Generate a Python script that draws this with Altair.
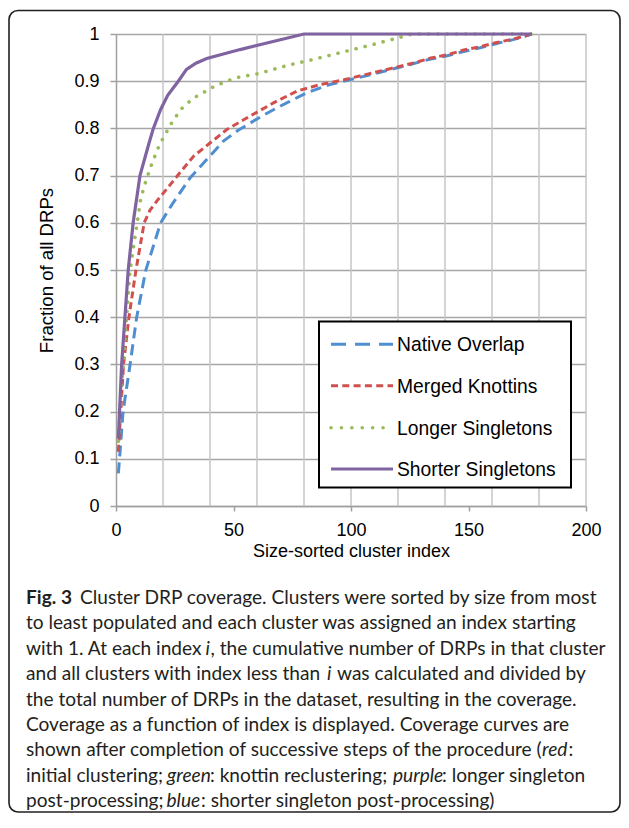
import altair as alt
import pandas as pd

# ---------------- data ----------------
series_names = ["Native Overlap", "Merged Knottins", "Longer Singletons", "Shorter Singletons"]
series_colors = ["#4F8ED0", "#D0504D", "#9BBB59", "#8064A2"]

native_x = [1, 1.5, 3, 6, 8.8, 12.7, 19, 24, 31.5, 38.6, 45.7, 52, 62.7, 71, 81, 91, 102, 114, 125,
            133, 141, 148, 155, 162, 169, 177]
native_y = [0.069, 0.1, 0.2, 0.3, 0.4, 0.5, 0.6, 0.64, 0.695, 0.734, 0.773, 0.796, 0.828, 0.85, 0.875,
            0.893, 0.906, 0.921, 0.935, 0.946, 0.954, 0.963, 0.971, 0.98, 0.988, 1.0]

merged_x = [1, 2, 3.2, 5.5, 8.5, 12, 14.5, 18, 22, 27, 33, 40, 47, 57, 67, 77, 87, 97, 107, 117, 127,
            134, 141, 148, 155, 162, 169, 177]
merged_y = [0.115, 0.2, 0.3, 0.4, 0.5, 0.6, 0.627, 0.65, 0.674, 0.705, 0.741, 0.769, 0.797, 0.826,
            0.854, 0.879, 0.893, 0.903, 0.915, 0.927, 0.939, 0.949, 0.956, 0.966, 0.973, 0.982, 0.989,
            1.0]

longer_x = [1, 2.1, 3.2, 4.5, 6, 9, 10.5, 12.8, 15.6, 18.7, 20.8, 22.7, 25.1, 27.5, 30.3, 33.6, 37.2,
            40.7, 44.7, 48.2, 52, 60.6, 72.6, 84.7, 96.7, 108.8, 120.9, 126, 177]
longer_y = [0.137, 0.242, 0.3, 0.4, 0.5, 0.6, 0.651, 0.69, 0.73, 0.768, 0.785, 0.804, 0.822, 0.84,
            0.853, 0.866, 0.876, 0.886, 0.895, 0.902, 0.908, 0.916, 0.933, 0.947, 0.962, 0.977, 0.993,
            1.0, 1.0]

shorter_x = [1, 2.4, 3.8, 5.2, 7.3, 10.2, 14, 15.9, 19, 22, 26.5, 30, 34, 38.6, 52.8, 80, 177]
shorter_y = [0.143, 0.3, 0.4, 0.5, 0.6, 0.7, 0.768, 0.8, 0.84, 0.87, 0.9, 0.925, 0.938, 0.948, 0.967,
             1.0, 1.0]

x_ticks = [0, 50, 100, 150, 200]
x_grid = [20, 40, 60, 80, 100, 120, 140, 160, 180, 200]
y_ticks = [0, 0.1, 0.2, 0.3, 0.4, 0.5, 0.6, 0.7, 0.8, 0.9, 1.0]

x_title = "Size-sorted cluster index"
y_title = "Fraction of all DRPs"

# caption: (text, style, left x on page, line number)
caption = [
    ("Fig. 3", "bold", 26, 0),
    ("Cluster DRP coverage. Clusters were sorted by size from most", "normal", 80, 0),
    ("to least populated and each cluster was assigned an index starting", "normal", 26, 1),
    ("with 1. At each index", "normal", 26, 2),
    ("i", "italic", 205.5, 2),
    (", the cumulative number of DRPs in that cluster", "normal", 210.5, 2),
    ("and all clusters with index less than", "normal", 26, 3),
    ("i", "italic", 327, 3),
    ("was calculated and divided by", "normal", 337, 3),
    ("the total number of DRPs in the dataset, resulting in the coverage.", "normal", 26, 4),
    ("Coverage as a function of index is displayed. Coverage curves are", "normal", 26, 5),
    ("shown after completion of successive steps of the procedure (", "normal", 26, 6),
    ("red", "italic", 542, 6),
    (":", "normal", 568.5, 6),
    ("initial clustering;", "normal", 26, 7),
    ("green", "italic", 167, 7),
    (": knottin reclustering;", "normal", 210, 7),
    ("purple", "italic", 393, 7),
    (": longer singleton", "normal", 442, 7),
    ("post-processing;", "normal", 26, 8),
    ("blue", "italic", 166.5, 8),
    (": shorter singleton post-processing)", "normal", 201, 8),
]

# ---------------- layout ----------------
W, H = 470, 472
OX, OY = 116, 34          # page position of the plot's top-left corner
CANVAS_W, CANVAS_H = 613, 805
FONT = "Liberation Sans"
CAP_FONT = "Lato"
CAP_SIZE = 19.1
CAP_COLOR = "#231f20"
CAP_Y0, CAP_DY = 598, 25.4


def px(v):
    return v - OX


def py(v):
    return v - OY


frames = []
for name, xs, ys in zip(series_names,
                        [native_x, merged_x, longer_x, shorter_x],
                        [native_y, merged_y, longer_y, shorter_y]):
    frames.append(pd.DataFrame({"series": name, "index": xs, "frac": ys}))
df = pd.concat(frames, ignore_index=True)

xscale = alt.Scale(domain=[0, 200], nice=False, zero=True)
yscale = alt.Scale(domain=[0, 1], nice=False, zero=True)

xaxis = alt.Axis(values=x_ticks, grid=False, title=x_title, tickSize=5, tickColor="#a0a0a0",
                 tickWidth=1.5, domainColor="#a0a0a0", domainWidth=1.5, labelFont=FONT,
                 labelFontSize=18, labelColor="#000000", labelPadding=10, labelFlush=False,
                 labelOverlap=False, titleFont=FONT, titleFontSize=18, titleFontWeight="normal",
                 titleColor="#000000", titleX=W / 2, titleY=50, titleBaseline="alphabetic",
                 titleAlign="center")
yaxis = alt.Axis(values=y_ticks, format="~g", grid=True, gridColor="#a6a6a6", gridWidth=1.5,
                 title=y_title, tickSize=6, tickColor="#a0a0a0", tickWidth=1.5,
                 domainColor="#a0a0a0", domainWidth=1.5, labelFont=FONT, labelFontSize=18,
                 labelColor="#000000", labelPadding=11, labelFlush=False, labelOverlap=False,
                 titleFont=FONT, titleFontSize=18.6, titleFontWeight="normal", titleColor="#000000",
                 titleAngle=-90, titleX=-64, titleY=H / 2, titleBaseline="alphabetic",
                 titleAlign="center")

one = pd.DataFrame({"k": [0]})

# vertical grid lines every 20 units
grid = alt.Chart(pd.DataFrame({"g": x_grid})).mark_rule(color="#c6c6c6", strokeWidth=1.5).encode(
    x=alt.X("g:Q", scale=xscale, axis=xaxis)
)

styles = {
    "Native Overlap": dict(strokeDash=[11, 6], strokeCap="butt", strokeWidth=3),
    "Merged Knottins": dict(strokeDash=[7, 4], strokeCap="butt", strokeWidth=3),
    "Longer Singletons": dict(strokeDash=[0.1, 9.2], strokeCap="round", strokeWidth=3.6),
    "Shorter Singletons": dict(strokeWidth=3.2),
}
legend_dash = {
    "Native Overlap": [15, 9],
    "Merged Knottins": [7, 4.3],
    "Longer Singletons": [0.1, 10.3],
}

layers = [grid]
for name, color in zip(series_names, series_colors):
    layers.append(
        alt.Chart(df).transform_filter(alt.datum.series == name)
        .mark_line(color=color, **styles[name])
        .encode(x=alt.X("index:Q", scale=xscale, axis=xaxis),
                y=alt.Y("frac:Q", scale=yscale, axis=yaxis))
    )

# legend (drawn by hand, Excel style)
layers.append(
    alt.Chart(one).mark_rect(fill="white", stroke="black", strokeWidth=2).encode(
        x=alt.value(px(319)), x2=alt.value(px(571)), y=alt.value(py(321.5)), y2=alt.value(py(487.5))
    )
)
leg_rows = [344.3, 385.7, 427.7, 469]
for name, color, ry in zip(series_names, series_colors, leg_rows):
    kw = dict(color=color, strokeWidth=styles[name]["strokeWidth"])
    if name in legend_dash:
        kw["strokeDash"] = legend_dash[name]
        kw["strokeCap"] = styles[name]["strokeCap"]
    layers.append(
        alt.Chart(one).mark_rule(**kw).encode(
            x=alt.value(px(331)), x2=alt.value(px(393)), y=alt.value(py(ry))
        )
    )
    layers.append(
        alt.Chart(one).mark_text(align="left", baseline="middle", font=FONT, fontSize=19.3,
                                 color="#000000", text=name).encode(
            x=alt.value(px(397)), y=alt.value(py(ry + 1))
        )
    )

# figure caption
for text, style, xl, line in caption:
    kw = dict(align="left", baseline="middle", font=CAP_FONT, fontSize=CAP_SIZE, color=CAP_COLOR,
              text=text)
    if style == "bold":
        kw["fontWeight"] = "bold"
    elif style == "italic":
        kw["fontStyle"] = "italic"
    layers.append(
        alt.Chart(one).mark_text(**kw).encode(
            x=alt.value(px(xl)), y=alt.value(py(CAP_Y0 + CAP_DY * line))
        )
    )

# rounded frame around the figure
layers.append(
    alt.Chart(one).mark_rect(fillOpacity=0, stroke="#231f20", strokeWidth=1.6, cornerRadius=9).encode(
        x=alt.value(px(9)), x2=alt.value(px(8 + CANVAS_W - 1)), y=alt.value(py(10.5)),
        y2=alt.value(py(8 + CANVAS_H - 1))
    )
)

chart = alt.layer(*layers).properties(
    width=W, height=H,
    autosize=alt.AutoSizeParams(type="none"),
    padding={"left": OX - 8, "top": OY - 8, "right": CANVAS_W - (OX - 8) - W,
             "bottom": CANVAS_H - (OY - 8) - H},
    background="white",
).configure_view(stroke=None)

chart.save("out.html", embed_options={"renderer": "svg", "actions": False})
